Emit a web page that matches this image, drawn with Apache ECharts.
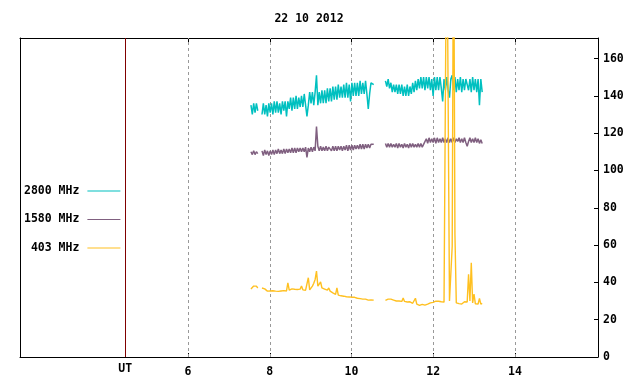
<!DOCTYPE html>
<html><head><meta charset="utf-8">
<script src="https://cdn.jsdelivr.net/npm/echarts@6/dist/echarts.min.js"></script>
<style>html,body{margin:0;padding:0;background:#fff}#c{width:640px;height:384px}</style>
</head><body><div id="c"></div>
<script>
// ---- data ----
const chartTitle = '22 10 2012';
const seriesNames = ['2800 MHz', '1580 MHz', '403 MHz'];
const seriesColors = ['#00c0c0', '#806080', '#ffc020'];
const xTickValues = [6, 8, 10, 12, 14];
const utLabelPos = 4.465;
const utLabel = 'UT';
const xMin = 1.89, xMax = 16.03;
const yMin = 0, yMax = 171, yInterval = 20;

// sampling segments (UT hours), one sample every 2 minutes
const segStarts = [7.54, 7.81, 10.83];
const sampleStep = 1 / 30;

const cyan1 = [135,130,136,131,136,132];
const cyan2 = [
 130,136,130,135,129,136,131,136,130,137,
 131,137,131,136,130,137,132,137,129,137,
 133,139,132,139,133,140,133,139,134,140,
 134,141,135,129,135,142,136,142,135,142,
 151,135,142,136,143,136,143,136,144,137,
 144,137,145,138,145,138,146,139,145,139,
 146,139,147,139,146,137,147,140,147,140,
 147,140,148,141,147,141,148,141,133,141,
 147,148,146];
const cyan3 = [
 148,145,149,144,147,142,146,142,146,141,
 146,141,146,140,145,140,146,140,145,141,
 147,142,148,143,149,144,150,144,150,143,
 150,144,150,143,149,140,150,143,150,143,
 150,144,137,149,143,150,143,139,149,151,
 143,150,142,149,143,150,142,149,143,149,
 150,143,149,142,150,143,149,142,149,135,
 149,142];

const purple1 = [110,108.5,110.5,108.5,110,109];
const purple2 = [
 110.5,108,111,108.5,110.5,108,110.5,108.5,111,108.5,
 111,109,111.5,109,111,109,111.5,109,111.5,109.5,
 111.5,109.5,112,109.5,112,109.5,112,110,112,110,
 112,110,112.5,107,112,110,112.5,110,112.5,110.5,
 123.5,113,110.5,113,110.5,112.5,110.5,113,110.5,112.5,
 113,110.5,113,110.5,113,110.5,113,111,113,110.5,
 113,111,113.5,110.5,113.5,111,113.5,111,113.5,111.5,
 113.5,111.5,114,111.5,114,111.5,114,112,114,112,
 114,113,114];
const purple3 = [
 114.5,112.5,114.5,112.5,114.5,112.5,114,112.5,114.5,112,
 114.5,112.5,114,112,114.5,112.5,114,112,114.5,112.5,
 114.5,112.5,114,112.5,114.5,112.5,114.5,112.5,114,113,
 117,114.5,117.5,115,117,115,117.5,114.5,117.5,115,
 117,115,117.5,115,117,115,117.5,115,117,115,
 117.5,115,117,115.5,117.5,115,117,115,117.5,115,
 113,115.5,117.5,115,117,115,117.5,115,117,114.5,
 116.5,114.5];

const gold1 = [36.5,37,38,37.5,38,37];
const gold2 = [
 37,37,36.5,35.5,35.3,35,35.4,35.2,35.5,35,
 35.3,35.6,35.2,35,35.4,35.3,35.6,35.1,35.4,39.8,
 35.8,36.2,36.5,36,36.3,36.6,36.2,36,36.4,38,
 36,36.3,35.8,36,42.5,36,36.5,38,39.5,41.6,
 46,38,37.5,40.2,37,36.8,36.4,36,35.8,37,
 35.3,35,34.4,34,33.6,37,33.2,33,32.8,33,
 32.6,32.4,32.3,32.5,32.2,32,32,31.8,32,31.6,
 31.5,31.2,31.3,30.9,31,30.6,31,30.4,30.5,30.2,
 30.6,30.4,30.5];
const gold3 = [
 30.3,30,31,30.5,31,31,30.5,30.2,30,30,
 30,29.8,29.8,31.6,29.8,29.7,29.5,29.6,29.6,29.2,
 28.8,28.7,31.5,28.3,28,27.7,27.6,28.2,27.7,27.8,
 27.6,28.3,28.6,29,29.1,29.3,29.9,29.9,30,29.9,
 30,29.6,29.1,29.4,30,250,250,30,30.2,59.4,
 250,65.9,29,29.5,28.6,29.3,28.4,28.6,29.6,30.2,
 29.5,44.4,30,50.5,29,33.7,28.5,28.7,28.4,31.4,
 28.3,28.7];

const seriesSegments = [[cyan1, cyan2, cyan3], [purple1, purple2, purple3], [gold1, gold2, gold3]];

// ---- build ----
function buildData(segs) {
  const out = [];
  segs.forEach((vals, k) => {
    vals.forEach((v, i) => out.push([segStarts[k] + i * sampleStep, v]));
    if (k < segs.length - 1) out.push([segStarts[k] + vals.length * sampleStep, null]);
  });
  return out;
}
const FONT = 'DejaVu Sans Mono';
const txt = {fontFamily: FONT, fontWeight: 'bold', fontSize: 11.5, color: '#000'};
const black = {color: '#000', width: 1};
const lineWidths = [1.5, 1.5, 1.4];

const chart = echarts.init(document.getElementById('c'), null, {renderer: 'canvas'});
const series = [{
  type: 'line', data: [], silent: true, symbol: 'none',
  markLine: {
    silent: true, z: 1, symbol: ['none', 'none'], animation: false,
    label: {show: false},
    lineStyle: {color: '#999999', type: [3, 3], width: 1},
    data: xTickValues.map(v => ({xAxis: v})).concat([
      {xAxis: utLabelPos, lineStyle: {color: '#800000', type: 'solid', width: 1}}])
  }
}];
seriesNames.forEach((n, k) => series.push({
  type: 'line', name: n, data: buildData(seriesSegments[k]),
  color: seriesColors[k], showSymbol: false, symbol: 'none',
  connectNulls: false, lineStyle: {width: lineWidths[k], color: seriesColors[k]},
  z: 3 + k, emphasis: {disabled: true}
}));

chart.setOption({
  animation: false,
  backgroundColor: '#fff',
  title: {text: chartTitle, left: 309, top: 13, textAlign: 'center', padding: 0, textStyle: txt},
  legend: {
    orient: 'vertical', left: 24, top: 184, align: 'right', padding: 0,
    itemGap: 14.5, itemWidth: 33, itemHeight: 1, icon: 'rect', selectedMode: false,
    data: seriesNames,
    textStyle: Object.assign({}, txt, {lineHeight: 14, padding: [0, 3, 0, 0]})
  },
  grid: {left: 20, right: 42, top: 38, bottom: 27},
  xAxis: [{
    type: 'value', min: xMin, max: xMax, position: 'bottom',
    axisLine: {show: true, onZero: false, lineStyle: black},
    axisTick: {show: true, inside: true, length: 4, customValues: xTickValues, lineStyle: black},
    axisLabel: Object.assign({customValues: [utLabelPos].concat(xTickValues),
      formatter: v => (v < 5 ? '{u|' + utLabel + '}' : String(v)), margin: 9,
      rich: {u: Object.assign({}, txt, {lineHeight: 7})}}, txt),
    splitLine: {show: false}
  }, {
    type: 'value', min: xMin, max: xMax, position: 'top',
    axisLine: {show: true, onZero: false, lineStyle: black},
    axisTick: {show: true, inside: true, length: 4, customValues: xTickValues, lineStyle: black},
    axisLabel: {show: false}, splitLine: {show: false}
  }],
  yAxis: [{
    type: 'value', min: yMin, max: yMax, interval: yInterval, position: 'right',
    axisLine: {show: true, onZero: false, lineStyle: black},
    axisTick: {show: true, inside: true, length: 4, lineStyle: black},
    axisLabel: Object.assign({margin: 5, showMaxLabel: false}, txt),
    splitLine: {show: false}
  }, {
    type: 'value', min: yMin, max: yMax, position: 'left',
    axisLine: {show: true, onZero: false, lineStyle: black},
    axisTick: {show: false}, axisLabel: {show: false}, splitLine: {show: false}
  }],
  series: series
});
</script>
</body></html>
